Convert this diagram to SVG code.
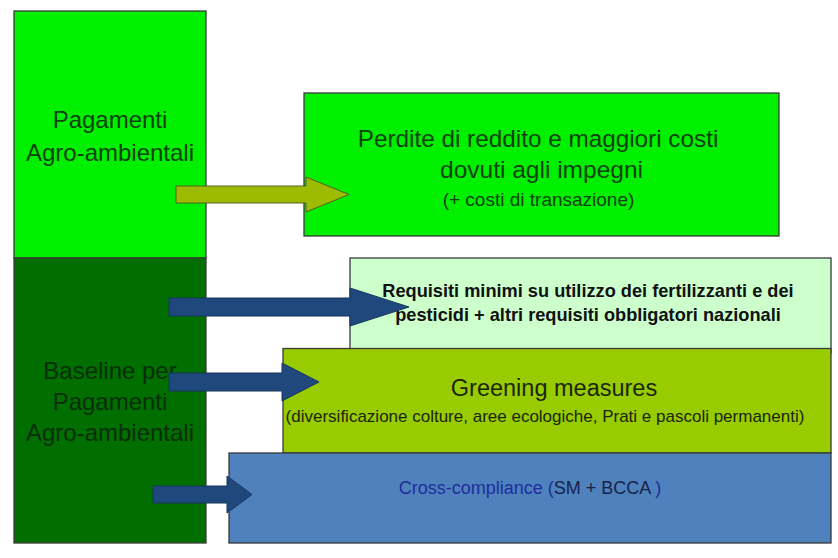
<svg xmlns="http://www.w3.org/2000/svg" width="838" height="558" viewBox="0 0 838 558">
  <style>
    .box { stroke: #3a3a3a; stroke-width: 1.3; }
    .t { font-family: "Liberation Sans", Arial, sans-serif; text-anchor: middle; }
    .dk { fill: #0c420c; }
    .arrB { fill: #1f497d; stroke: #17375e; stroke-width: 1; }
    .arrG { fill: #9dbb00; stroke: #4f6228; stroke-width: 1; }
  </style>
  <rect x="0" y="0" width="838" height="558" fill="#ffffff"/>

  <g id="pagamenti">
    <rect class="box" x="14" y="11" width="192" height="247" fill="#00f000"/>
    <text class="t dk" x="110" y="128" font-size="24">Pagamenti</text>
    <text class="t dk" x="110" y="161" font-size="24">Agro-ambientali</text>
  </g>

  <g id="baseline">
    <rect class="box" x="14" y="258" width="192" height="285" fill="#006f00"/>
    <text class="t" x="110" y="379" font-size="24" fill="#0a2e0a">Baseline per</text>
    <text class="t" x="110" y="409.5" font-size="24" fill="#0a2e0a">Pagamenti</text>
    <text class="t" x="110" y="440.5" font-size="24" fill="#0a2e0a">Agro-ambientali</text>
  </g>

  <g id="perdite">
    <rect class="box" x="304" y="93" width="475" height="143" fill="#00f000"/>
    <text class="t dk" x="538" y="147" font-size="24.3">Perdite di reddito e maggiori costi</text>
    <text class="t dk" x="541.5" y="178" font-size="24.5">dovuti agli impegni</text>
    <text class="t dk" x="538.5" y="206" font-size="19">(+ costi di transazione)</text>
  </g>

  <g id="requisiti">
    <rect class="box" x="350" y="258" width="481" height="95" fill="#ccffcc"/>
    <text class="t" x="588" y="297" font-size="18.2" font-weight="bold" fill="#111111">Requisiti minimi su utilizzo dei fertilizzanti e dei</text>
    <text class="t" x="588" y="320.5" font-size="18.2" font-weight="bold" fill="#111111">pesticidi + altri requisiti obbligatori nazionali</text>
  </g>

  <g id="greening">
    <rect class="box" x="283" y="348.5" width="548" height="104.5" fill="#99cc00"/>
    <text class="t" x="554" y="396" font-size="23.5" fill="#1a2608">Greening measures</text>
    <text class="t" x="545" y="422" font-size="17" fill="#1a2608">(diversificazione colture, aree ecologiche, Prati e pascoli permanenti)</text>
  </g>

  <g id="cross-compliance">
    <rect class="box" x="229" y="453" width="602" height="90" fill="#4f81bd"/>
    <text class="t" x="530" y="494" font-size="18" fill="#1f2d9c">Cross-compliance (<tspan fill="#17234a">SM + BCCA</tspan> )</text>
  </g>

  <g id="connectors">
    <polygon class="arrG" points="176,186 306,186 306,177 349,194.5 306,212 306,203 176,203"/>
    <polygon class="arrB" points="169,298 350,298 350,288 409,307 350,326 350,316 169,316"/>
    <polygon class="arrB" points="169,373 282,373 282,363 319,382 282,401 282,391 169,391"/>
    <polygon class="arrB" points="153,486 227,486 227,476 252,494.5 227,513 227,503 153,503"/>
  </g>
</svg>
